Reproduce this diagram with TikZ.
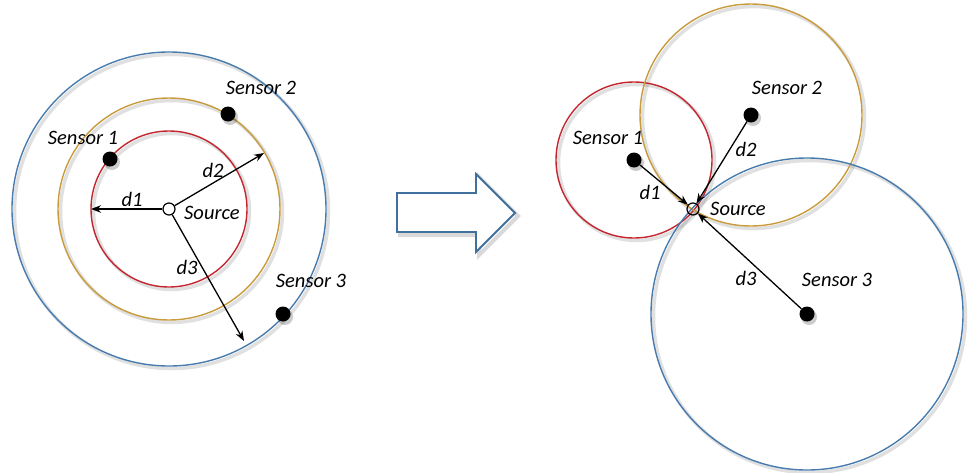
\documentclass[tikz,border=0pt]{standalone}
\usepackage{fontspec}
\setmainfont{Carlito}
\usetikzlibrary{arrows.meta}
\definecolor{cred}{RGB}{196,38,48}
\definecolor{cgold}{RGB}{200,155,60}
\definecolor{cblue}{RGB}{72,124,174}
\definecolor{carrow}{RGB}{66,112,156}
\tikzset{
  ring/.style={line width=1.4pt},
  ringshadow/.style={draw=black,opacity=0.12,line width=3.5pt},
  dot/.style={circle,fill=black,inner sep=0pt,minimum size=15pt},
  dotshadow/.style={circle,fill=black,opacity=0.2,inner sep=0pt,minimum size=16pt},
  src/.style={circle,draw=black,fill=white,line width=1.2pt,inner sep=0pt,minimum size=12pt},
  lbl/.style={font=\fontsize{20.5}{24}\selectfont\itshape,inner sep=0pt},
  dist/.style={line width=1.3pt,-{Stealth[length=10pt,width=7.5pt]}},
}
\begin{document}
\begin{tikzpicture}[x=1pt,y=-1pt]
\useasboundingbox (0,0) rectangle (977,472);
% ---------- left ----------
\foreach \r/\c in {157/cblue,111/cgold,78/cred}{
  \draw[ringshadow] (171.5,211.5) circle (\r);
  \draw[ring,draw=\c] (169,209) circle (\r);
}
\node[dotshadow] at (112,162) {};
\node[dotshadow] at (230,117) {};
\node[dotshadow] at (285,317) {};
\node[dot] (ls1) at (110,159) {};
\node[dot] (ls2) at (228,114) {};
\node[dot] (ls3) at (283,314) {};
\node[src] (lsrc) at (169,209) {};
\coordinate (le1) at (91,209);
\coordinate (le2) at (264,153);
\coordinate (le3) at (244,341);
\draw[dist] (lsrc) -- (le1);
\draw[dist] (lsrc) -- (le2);
\draw[dist] (lsrc) -- (le3);
\node[lbl] (lt1) at (83,138) {Sensor 1};
\node[lbl] (lt2) at (261,88) {Sensor 2};
\node[lbl] (lt3) at (311,281) {Sensor 3};
\node[lbl] (ld1) at (132,199) {d1};
\node[lbl] (ld2) at (213,170) {d2};
\node[lbl] (ld3) at (187,267) {d3};
\node[lbl] (lso) at (212,213) {Source};
% ---------- arrow ----------
\draw[draw=black,opacity=0.15,line width=4pt,line join=miter]
  (400,196) -- (479,196) -- (479,177) -- (518,216) -- (479,255) -- (479,235) -- (400,235) -- cycle;
\draw[draw=carrow,fill=white,line width=1.8pt,line join=miter]
  (397,193) -- (476,193) -- (476,174) -- (515,213) -- (476,252) -- (476,232) -- (397,232) -- cycle;
% ---------- right ----------
\draw[ringshadow] (636.5,162.5) circle (78);
\draw[ringshadow] (753.5,117.5) circle (111);
\draw[ringshadow] (809.5,316.5) circle (156);
\draw[ring,draw=cred] (634,160) circle (78);
\draw[ring,draw=cgold] (751,115) circle (111);
\draw[ring,draw=cblue] (807,314) circle (156);
\node[dotshadow] at (636,163) {};
\node[dotshadow] at (753,118) {};
\node[dotshadow] at (809,317) {};
\node[dot] (rs1) at (634,160) {};
\node[dot] (rs2) at (751,115) {};
\node[dot] (rs3) at (807,314) {};
\node[circle,draw=black,line width=1.2pt,inner sep=0pt,minimum size=12pt] (rsrc) at (693,209) {};
\draw[dist] (rs1) -- (rsrc);
\draw[dist] (rs2) -- (rsrc);
\draw[dist] (rs3) -- (rsrc);
\node[lbl] (rt1) at (608,138) {Sensor 1};
\node[lbl] (rt2) at (787,88) {Sensor 2};
\node[lbl] (rt3) at (837,280) {Sensor 3};
\node[lbl] (rd1) at (650,192) {d1};
\node[lbl] (rd2) at (746,149) {d2};
\node[lbl] (rd3) at (746,278) {d3};
\node[lbl] (rso) at (738,209) {Source};
\end{tikzpicture}
\end{document}
